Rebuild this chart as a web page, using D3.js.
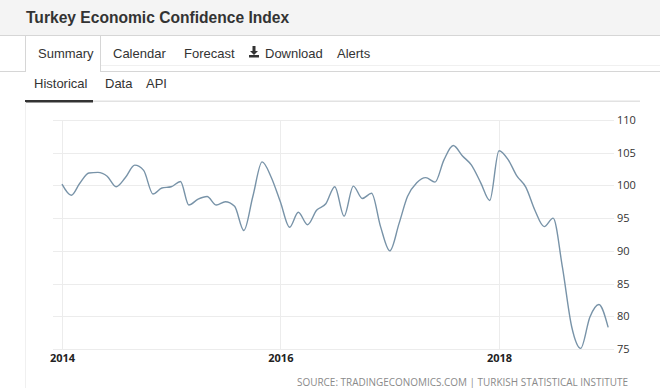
<!DOCTYPE html>
<html>
<head>
<meta charset="utf-8">
<script src="https://cdnjs.cloudflare.com/ajax/libs/d3/7.8.5/d3.min.js"></script>
<style>
  html, body { margin: 0; padding: 0; background: #fff; }
  svg { display: block; }
  .ui { font-family: "Liberation Sans", Arial, sans-serif; fill: #333; }
  .axis text { font-family: "Open Sans", "DejaVu Sans", sans-serif; fill: #222; }
</style>
</head>
<body>
<div id="chart"></div>
<script>
// monthly readings, Jan 2014 .. Jan 2019
const startMonth = new Date(2014, 0, 1);
const values = [
  100.2, 98.5, 100.3, 101.9, 102.0, 101.4, 99.8, 101.2, 103.1, 102.3, 98.7, 99.6,
  99.8, 100.6, 97.0, 97.9, 98.3, 97.0, 97.5, 96.8, 93.1, 98.3, 103.6, 101.3,
  97.5, 93.6, 95.9, 94.0, 96.2, 97.2, 99.8, 95.3, 99.9, 98.0, 98.8, 93.7,
  90.0, 94.2, 98.3, 100.4, 101.2, 100.5, 103.9, 106.1, 104.5, 103.1, 100.4, 97.7,
  105.3, 103.9, 101.5, 99.7, 96.2, 93.7, 95.0, 87.5, 78.4, 75.1, 79.9, 81.8,
  78.3
];
const yTicks = [75, 80, 85, 90, 95, 100, 105, 110];
const xTickYears = [2014, 2016, 2018];
const tabs = ["Summary", "Calendar", "Forecast", "Download", "Alerts"];
const subTabs = ["Historical", "Data", "API"];

const data = values.map((v, i) => ({ date: d3.timeMonth.offset(startMonth, i), value: v }));

const width = 660, height = 388;
const svg = d3.select("#chart").append("svg")
  .attr("width", width)
  .attr("height", height);

// ---- header ----
svg.append("rect")
  .attr("x", 0).attr("y", 0)
  .attr("width", width).attr("height", 35)
  .attr("fill", "#f4f4f4");
svg.append("line")
  .attr("x1", 0).attr("x2", width)
  .attr("y1", 35.5).attr("y2", 35.5)
  .attr("stroke", "#d6d6d6");
svg.append("text")
  .attr("class", "ui")
  .attr("x", 26).attr("y", 23)
  .style("font-size", "15.6px")
  .style("font-weight", 700)
  .text("Turkey Economic Confidence Index");

// tab row
svg.append("line")
  .attr("x1", 0).attr("x2", 25)
  .attr("y1", 71.5).attr("y2", 71.5)
  .attr("stroke", "#d6d6d6");
svg.append("line")
  .attr("x1", 100).attr("x2", width)
  .attr("y1", 71.5).attr("y2", 71.5)
  .attr("stroke", "#d6d6d6");
svg.append("line")
  .attr("x1", 100).attr("x2", width)
  .attr("y1", 65.5).attr("y2", 65.5)
  .attr("stroke", "#f0f0f0");
svg.append("path")
  .attr("d", "M25.5,72V36M100.5,36V72")
  .attr("stroke", "#d6d6d6")
  .attr("fill", "none");

const tabX = [38, 113, 184, 265, 337];
svg.selectAll(".tab")
  .data(tabs)
  .join("text")
    .attr("class", "tab ui")
    .attr("x", (d, i) => tabX[i])
    .attr("y", 58)
    .style("font-size", "13px")
    .text(d => d);

// download icon
const icon = svg.append("g").attr("transform", "translate(249,46)").attr("fill", "#333");
icon.append("rect").attr("x", 3.5).attr("y", 0).attr("width", 3).attr("height", 5);
icon.append("path").attr("d", "M1,5H9L5,9Z");
icon.append("rect").attr("x", 0).attr("y", 9).attr("width", 10).attr("height", 2.5);

// sub tabs
const subX = [34, 105, 146];
svg.selectAll(".subtab")
  .data(subTabs)
  .join("text")
    .attr("class", "subtab ui")
    .attr("x", (d, i) => subX[i])
    .attr("y", 88)
    .style("font-size", "13px")
    .text(d => d);
svg.append("rect")
  .attr("x", 93).attr("y", 100.5)
  .attr("width", 547).attr("height", 1.5)
  .attr("fill", "#e2e2e2");
svg.append("rect")
  .attr("x", 25).attr("y", 100)
  .attr("width", 68).attr("height", 2.5)
  .attr("fill", "#333");
svg.append("line")
  .attr("x1", 25.5).attr("x2", 25.5)
  .attr("y1", 102).attr("y2", height)
  .attr("stroke", "#f0f0f0");

// ---- chart ----
const plot = { left: 53, right: 614, top: 120, bottom: 349 };

const x = d3.scaleTime()
  .domain([new Date(2014, 0, 1), new Date(2018, 0, 1)])
  .range([62, 499]);

const y = d3.scaleLinear()
  .domain([75, 110])
  .range([plot.bottom, plot.top]);

svg.append("g")
  .selectAll("line")
  .data(yTicks)
  .join("line")
    .attr("x1", plot.left).attr("x2", plot.right)
    .attr("y1", d => Math.round(y(d)) + 0.5)
    .attr("y2", d => Math.round(y(d)) + 0.5)
    .attr("stroke", "#ececec");

svg.append("g")
  .selectAll("line")
  .data(xTickYears)
  .join("line")
    .attr("x1", d => Math.round(x(new Date(d, 0, 1))) + 0.5)
    .attr("x2", d => Math.round(x(new Date(d, 0, 1))) + 0.5)
    .attr("y1", plot.top)
    .attr("y2", plot.bottom)
    .attr("stroke", "#ececec");

const yAxis = svg.append("g")
  .attr("class", "axis")
  .attr("transform", `translate(${plot.right + 2},0)`)
  .call(d3.axisRight(y).tickValues(yTicks).tickSize(0).tickPadding(1));
yAxis.select(".domain").remove();
yAxis.selectAll("text").style("font-size", "11px").style("fill", "#333");

const xAxis = svg.append("g")
  .attr("class", "axis")
  .attr("transform", `translate(0,${plot.bottom})`)
  .call(d3.axisBottom(x)
    .tickValues(xTickYears.map(d => new Date(d, 0, 1)))
    .tickFormat(d3.timeFormat("%Y"))
    .tickSize(0)
    .tickPadding(5));
xAxis.select(".domain").remove();
xAxis.selectAll("text")
  .style("font-size", "11px")
  .style("font-weight", 700);

const line = d3.line()
  .x(d => x(d.date))
  .y(d => y(d.value))
  .curve(d3.curveMonotoneX);

svg.append("path")
  .datum(data)
  .attr("d", line)
  .attr("fill", "none")
  .attr("stroke", "#7893a8")
  .attr("stroke-width", 1.4);

svg.append("text")
  .attr("x", 297).attr("y", 386)
  .attr("textLength", 331)
  .attr("lengthAdjust", "spacingAndGlyphs")
  .style("font-family", "'Open Sans', sans-serif")
  .style("font-size", "10px")
  .style("fill", "#8a8a8a")
  .text("SOURCE: TRADINGECONOMICS.COM | TURKISH STATISTICAL INSTITUTE");
</script>
</body>
</html>
